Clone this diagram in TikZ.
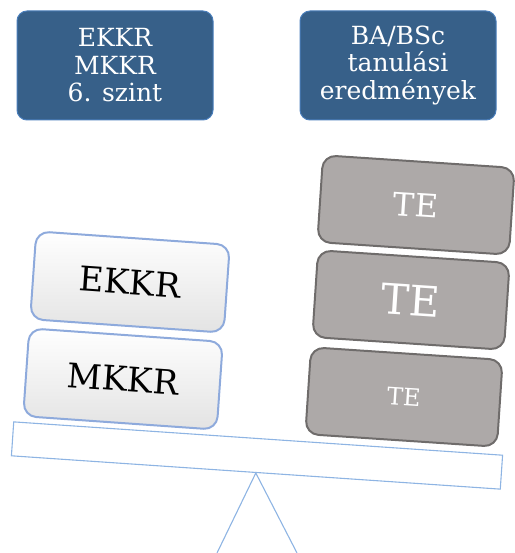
\documentclass[tikz,border=0pt]{standalone}
\usepackage{fontspec}
\setmainfont{DejaVu Serif}
\definecolor{hdrfill}{HTML}{376089}
\definecolor{hdrline}{HTML}{4A7EBB}
\definecolor{lightline}{HTML}{8EAADC}
\definecolor{lightbot}{HTML}{E3E3E3}
\definecolor{greyfill}{HTML}{ADA9A8}
\definecolor{greyline}{HTML}{6F6C6B}
\definecolor{beamline}{HTML}{8EB4E3}
\tikzset{
  header/.style={draw=hdrline, fill=hdrfill, line width=1pt, rounded corners=10pt,
    minimum width=196pt, minimum height=109pt, inner sep=0pt, text=white,
    align=center, font=\fontsize{25}{27.5}\selectfont},
  weight/.style={draw=lightline, line width=2pt, rounded corners=13pt,
    top color=white, bottom color=lightbot, minimum width=194pt, minimum height=88pt,
    inner sep=0pt, rotate=-4, font=\fontsize{34}{38}\selectfont},
  te/.style={draw=greyline, fill=greyfill, line width=2pt, rounded corners=13pt,
    minimum width=192pt, minimum height=87pt, inner sep=0pt, rotate=-3.8, text=white},
  beam/.style={draw=beamline, line width=1.1pt},
}
\begin{document}
\begin{tikzpicture}[x=1pt,y=-1pt]
\useasboundingbox (0,0) rectangle (514,553);

% headers
\node[header] (h1) at (115,65.5) {EKKR\\MKKR\\6. szint};
\node[header] (h2) at (398,65.5) {BA/BSc\\tanulási\\eredmények};

% seesaw plank and fulcrum
\node[beam, minimum width=490pt, minimum height=34pt, inner sep=0pt, rotate=-3.9] (plank) at (257,455.5) {};
\coordinate (fl) at (217,553);
\coordinate (fr) at (297,553);
\draw[beam] (fl) -- (plank.south) -- (fr);

% left stack
\node[weight] (mkkr) at (123,379) {MKKR};
\node[weight] (ekkr) at (130,282) {EKKR};

% right stack
\node[te, font=\fontsize{24}{26}\selectfont] (te3) at (404,397) {TE};
\node[te, font=\fontsize{42}{46}\selectfont] (te2) at (411,300) {TE};
\node[te, font=\fontsize{32}{36}\selectfont] (te1) at (416,205) {TE};
\end{tikzpicture}
\end{document}
